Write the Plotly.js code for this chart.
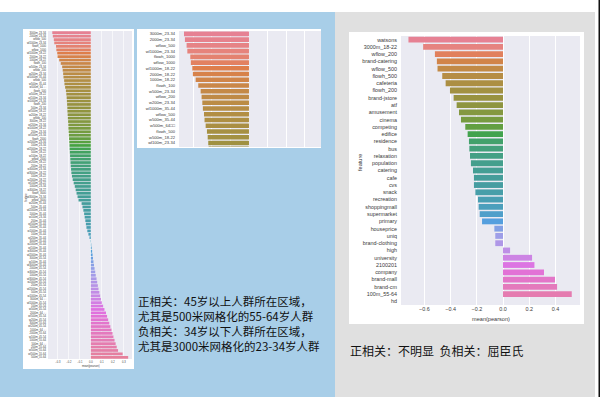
<!DOCTYPE html>
<html><head><meta charset="utf-8">
<script src="https://cdn.plot.ly/plotly-3.0.1.min.js"></script>
<style>html,body{margin:0;padding:0;background:#fff;}#chart{width:600px;height:397px;}</style>
</head><body><div id="chart"></div><script>
// ---------------- DATA ----------------
const leftFeatures = [
 "3000m_23-34","2000m_23-34","wflow_500","wl1000m_23-34","flowh_1000","wflow_1000","wl1000m_18-22","2000m_18-22","1000m_18-22","flowh_100",
 "w500m_23-34","wflow_200","w200m_23-34","wl1000m_35-44","wflow_500","w500m_35-44","w500m_64□□","flowh_500","w500m_18-22","wl100m_23-34",
 "w1000m_23-34","flowh_200","500m_23-34","wl500m_18-22","w200m_18-22","wflow_100","3000m_18-22","wl200m_23-34","w1000m_18-22","200m_23-34",
 "wl500m_23-34","flowh_2000","w2000m_23-34","100m_23-34","wl2000m_18-22","500m_18-22","w100m_18-22","wflow_2000","wl200m_18-22","200m_18-22",
 "w3000m_23-34","wl3000m_18-22","100m_18-22","w2000m_18-22","wl100m_18-22","1000m_23-34","w3000m_18-22","flowh_3000","wl3000m_23-34","wflow_3000",
 "w200m_35-44","500m_35-44","wl2000m_23-34","1000m_35-44","w100m_23-34","200m_35-44","wl500m_35-44","2000m_35-44","w1000m_35-44","100m_35-44",
 "wl200m_35-44","3000m_35-44","w2000m_35-44","wl100m_35-44","w3000m_35-44","wl2000m_35-44","3000m_45-54","w100m_35-44","wl3000m_35-44","2000m_45-54",
 "w3000m_45-54","1000m_45-54","wl3000m_45-54","w2000m_45-54","200m_45-54","wl2000m_45-54","500m_45-54","w1000m_45-54","3000m_64□□","wl1000m_45-54",
 "100m_45-54","w500m_45-54","2000m_64□□","wl500m_45-54","w200m_45-54","3000m_55-64","wl200m_45-54","1000m_64□□","2000m_55-64","w100m_45-54",
 "1000m_55-64","500m_64□□","200m_55-64","w500m_55-64","wl500m_55-64","500m_55-64"
];
const leftValues = [
 -0.351,-0.346,-0.337,-0.333,-0.317,-0.314,-0.306,-0.303,-0.288,-0.274,
 -0.261,-0.256,-0.252,-0.249,-0.243,-0.240,-0.234,-0.227,-0.223,-0.220,
 -0.218,-0.216,-0.214,-0.213,-0.211,-0.209,-0.207,-0.205,-0.204,-0.202,
 -0.200,-0.198,-0.196,-0.194,-0.193,-0.191,-0.189,-0.187,-0.185,-0.183,
 -0.180,-0.177,-0.172,-0.165,-0.156,-0.146,-0.138,-0.130,-0.121,-0.112,
 -0.084,-0.076,-0.068,-0.061,-0.056,-0.050,-0.045,-0.040,-0.032,-0.022,
 -0.012,-0.003,0.004,0.008,0.012,0.016,0.020,0.024,0.029,0.034,
 0.040,0.045,0.052,0.058,0.064,0.070,0.078,0.085,0.092,0.100,
 0.112,0.124,0.138,0.148,0.158,0.168,0.178,0.188,0.198,0.206,
 0.216,0.226,0.236,0.248,0.290,0.340
];
const leftTicks = [-0.3,-0.2,-0.1,0.0,0.1,0.2,0.3];

const rightFeatures = [
 "watsons","3000m_18-22","wflow_200","brand-catering","wflow_500","flowh_500","cafeteria","flowh_200","brand-jstore","atf",
 "amusement","cinema","competing","edifice","residence","bus","relaxation","population","catering","cafe",
 "cvs","snack","recreation","shoppingmall","supermarket","primary","houseprice","uniq","brand-clothing","high",
 "university","2100201","company","brand-mall","brand-cm","100m_55-64","hd"
];
const rightValues = [
 -0.722,-0.610,-0.520,-0.505,-0.500,-0.464,-0.438,-0.405,-0.377,-0.354,
 -0.336,-0.321,-0.288,-0.270,-0.260,-0.257,-0.252,-0.245,-0.229,-0.222,
 -0.222,-0.211,-0.191,-0.186,-0.178,-0.160,-0.066,-0.059,-0.059,0.054,
 0.222,0.240,0.313,0.397,0.413,0.525,0.0
];
const rightTicks = [-0.6,-0.4,-0.2,0.0,0.2,0.4];

const noteLeft = [
 "正相关：45岁以上人群所在区域，",
 "尤其是500米网格化的55-64岁人群",
 "负相关：34岁以下人群所在区域，",
 "尤其是3000米网格化的23-34岁人群"
];
const noteRight = "正相关：不明显\u00a0\u00a0负相关：屈臣氏";

// ---------------- seaborn-like husl palette ----------------
function huslRgb(h, s, l) {
  const m = [[3.2406,-1.5372,-0.4986],[-0.9689,1.8758,0.0415],[0.0557,-0.2040,1.0570]];
  const refU = 0.19784, refV = 0.46834, kappa = 903.3, eps = 0.008856;
  function maxChroma(L, H) {
    const hr = H/180*Math.PI, sH = Math.sin(hr), cH = Math.cos(hr);
    const sub1 = Math.pow(L+16,3)/1560896, sub2 = sub1 > eps ? sub1 : L/kappa;
    let res = Infinity;
    for (const r of m) {
      const top = (0.99915*r[0] + 1.05122*r[1] + 1.14460*r[2])*sub2;
      const rb = 0.86330*r[2] - 0.17266*r[1], lb = 0.12949*r[2] - 0.38848*r[0];
      const bottom = (rb*sH + lb*cH)*sub2;
      for (const t of [0,1]) {
        const C = L*(top - 1.05122*t)/(bottom + 0.17266*sH*t);
        if (C > 0 && C < res) res = C;
      }
    }
    return res;
  }
  const C = maxChroma(l, h)/100*s, hr = h/180*Math.PI;
  const U = Math.cos(hr)*C, V = Math.sin(hr)*C;
  const Y = l > 8 ? Math.pow((l+16)/116,3) : l/kappa;
  const vU = U/(13*l) + refU, vV = V/(13*l) + refV;
  const X = -(9*Y*vU)/((vU-4)*vV - vU*vV);
  const Z = (9*Y - 15*vV*Y - vV*X)/(3*vV);
  return m.map(r => { let c = r[0]*X + r[1]*Y + r[2]*Z;
    c = c <= 0.0031308 ? 12.92*c : 1.055*Math.pow(c,1/2.4) - 0.055;
    return Math.max(0, Math.min(1, c)); });
}
function desaturate(rgb, p) {
  const [r,g,b] = rgb, mx = Math.max(r,g,b), mn = Math.min(r,g,b), L = (mx+mn)/2;
  if (mx === mn) return rgb;
  const d = mx - mn; let S = L <= 0.5 ? d/(mx+mn) : d/(2-mx-mn), H;
  if (mx === r) H = ((g-b)/d) % 6; else if (mx === g) H = (b-r)/d + 2; else H = (r-g)/d + 4;
  H /= 6; if (H < 0) H += 1;
  S *= p;
  const q = L < 0.5 ? L*(1+S) : L + S - L*S, pp = 2*L - q;
  const f = t => { if (t<0) t+=1; if (t>1) t-=1;
    if (t<1/6) return pp+(q-pp)*6*t; if (t<1/2) return q; if (t<2/3) return pp+(q-pp)*(2/3-t)*6; return pp; };
  return [f(H+1/3), f(H), f(H-1/3)];
}
function palette(n) {
  const out = [];
  for (let i = 0; i < n; i++) {
    const h = ((i/n + 0.01) % 1) * 359;
    const c = desaturate(huslRgb(h, 0.9*99, 0.65*99), 0.75);
    out.push('rgb(' + c.map(v => Math.round(v*255)).join(',') + ')');
  }
  return out;
}

// ---------------- LAYOUT ----------------
const W = 600, H = 397;
const P = px => px / W, Q = py => 1 - py / H;
const domL = {x:[P(48),P(132)], y:[Q(359),Q(31)]};
const domT = {x:[P(179),P(321)], y:[Q(147),Q(31)]};
const domR = {x:[P(401),P(580)], y:[Q(305),Q(36)]};

const leftIdx = leftFeatures.map((_, i) => i);
const rightIdx = rightFeatures.map((_, i) => i);
const leftColors = palette(leftFeatures.length);
const rightColors = palette(rightFeatures.length);

const traces = [
  {type:'bar', orientation:'h', x:leftValues, y:leftIdx, marker:{color:leftColors, line:{width:0}}, xaxis:'x', yaxis:'y', hoverinfo:'skip'},
  {type:'bar', orientation:'h', x:leftValues, y:leftIdx, marker:{color:leftColors, line:{width:0}}, xaxis:'x2', yaxis:'y2', hoverinfo:'skip'},
  {type:'bar', orientation:'h', x:rightValues, y:rightIdx, marker:{color:rightColors, line:{width:0}}, xaxis:'x3', yaxis:'y3', hoverinfo:'skip'}
];

const rect = (x0,x1,y0,y1,fill) => ({type:'rect', xref:'paper', yref:'paper', x0, x1, y0, y1, fillcolor:fill, line:{width:0}, layer:'below'});
const shapes = [
  rect(0, P(335), 0, Q(12), '#a8cee8'),
  rect(P(335), P(595), 0, Q(12), '#e0e0e0'),
  rect(P(598.5), 1, 0, 1, '#111111'),
  rect(P(23), P(134), Q(369), Q(29), '#ffffff'),
  rect(P(137), P(321), Q(148), Q(29), '#ffffff'),
  rect(P(349), P(584), Q(324), Q(32), '#ffffff'),
  rect(domL.x[0], domL.x[1], domL.y[0], domL.y[1], '#eaeaf2'),
  rect(domT.x[0], domT.x[1], domT.y[0], domT.y[1], '#eaeaf2'),
  rect(domR.x[0], domR.x[1], domR.y[0], domR.y[1], '#eaeaf2')
];

const tickC = '#3a3a3a';
const FONT = 'Liberation Sans, Arial, sans-serif';
const xBase = {showgrid:true, gridcolor:'#ffffff', zeroline:false, showline:false, ticks:'', fixedrange:true, tickformat:'.1f'};
const yBase = {showgrid:false, zeroline:false, showline:false, ticks:'', fixedrange:true};

const ann = [];
const addText = (text, x, y, size, color, opts) => ann.push(Object.assign({text, x, y, xref:'paper', yref:'paper', showarrow:false, font:{size, color, family:FONT}}, opts||{}));
addText('mean(pearson)', P(91), Q(365.5), 2.6, tickC, {xanchor:'center', yanchor:'middle'});
addText('feature', P(25.5), Q(197), 2.6, tickC, {xanchor:'center', yanchor:'middle', textangle:-90});
addText('mean(pearson)', P(490.5), Q(318.5), 5.6, tickC, {xanchor:'center', yanchor:'middle'});
addText('feature', P(360), Q(163), 5.6, tickC, {xanchor:'center', yanchor:'middle', textangle:-90});
const cjk = 'Noto Sans CJK SC, sans-serif';
ann.push({text:noteLeft.join('<br>'), x:P(136.5), y:Q(323), xref:'paper', yref:'paper', xanchor:'left', yanchor:'middle', align:'left', showarrow:false, borderpad:0, font:{size:11.5, color:'#111111', family:cjk}});
ann.push({text:noteRight, x:P(348), y:Q(350.7), xref:'paper', yref:'paper', xanchor:'left', yanchor:'middle', showarrow:false, font:{size:12, color:'#111111', family:cjk}});

const layout = {
  width:W, height:H, margin:{l:0,r:0,t:0,b:0}, autosize:false,
  paper_bgcolor:'#ffffff', plot_bgcolor:'rgba(0,0,0,0)',
  showlegend:false, bargap:0.2,
  font:{family:FONT, color:tickC},
  xaxis: Object.assign({}, xBase, {domain:domL.x, anchor:'y', range:[-0.39,0.375], tickvals:leftTicks, tickfont:{size:2.6, color:tickC}, gridwidth:0.6}),
  yaxis: Object.assign({}, yBase, {domain:domL.y, anchor:'x', range:[leftFeatures.length-0.5,-0.5], tickvals:leftIdx, ticktext:leftFeatures, tickfont:{size:2.7, color:tickC}, ticklabelstandoff:1}),
  xaxis2: Object.assign({}, xBase, {domain:domT.x, anchor:'y2', range:[-0.378,0.389], tickvals:leftTicks, showticklabels:false, gridwidth:1}),
  yaxis2: Object.assign({}, yBase, {domain:domT.y, anchor:'x2', range:[19.7,-0.5], tickvals:leftIdx, ticktext:leftFeatures, tickfont:{size:4.1, color:tickC}, ticklabelstandoff:3}),
  xaxis3: Object.assign({}, xBase, {domain:domR.x, anchor:'y3', range:[-0.779,0.588], tickvals:rightTicks, tickfont:{size:5.4, color:tickC}, gridwidth:1}),
  yaxis3: Object.assign({}, yBase, {domain:domR.y, anchor:'x3', range:[rightFeatures.length-0.5,-0.5], tickvals:rightIdx, ticktext:rightFeatures, tickfont:{size:5.4, color:tickC}, ticklabelstandoff:3}),
  shapes, annotations:ann
};

Plotly.newPlot('chart', traces, layout, {staticPlot:true, displayModeBar:false});
</script></body></html>
